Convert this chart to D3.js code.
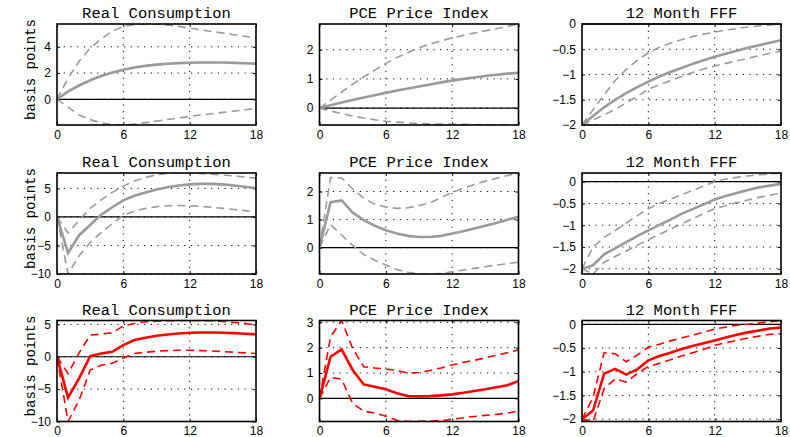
<!DOCTYPE html>
<html>
<head>
<meta charset="utf-8">
<script src="https://cdn.jsdelivr.net/npm/d3@7"></script>
<style>
  body { margin: 0; background: #fff; }
</style>
</head>
<body>
<svg width="790" height="437"></svg>
<script>
// months 0..18
var months = d3.range(0, 19);
var xTicks = [0, 6, 12, 18];
var titles = ["Real Consumption", "PCE Price Index", "12 Month FFF"];

// row 1 (gray, smooth)
var cons1 = [0, 0.6, 1.05, 1.45, 1.78, 2.05, 2.26, 2.42, 2.55, 2.64, 2.71, 2.76, 2.79, 2.81, 2.81, 2.8, 2.78, 2.75, 2.72];
var cons1Up = [0, 1.6, 2.9, 3.9, 4.6, 5.2, 5.55, 5.7, 5.74, 5.72, 5.66, 5.56, 5.43, 5.3, 5.17, 5.05, 4.92, 4.8, 4.65];
var cons1Lo = [0, -0.6, -1.2, -1.55, -1.8, -1.93, -1.96, -1.88, -1.78, -1.66, -1.54, -1.42, -1.3, -1.2, -1.1, -1.0, -0.9, -0.8, -0.72];
var pce1 = [0, 0.1, 0.19, 0.28, 0.36, 0.44, 0.52, 0.6, 0.67, 0.74, 0.81, 0.88, 0.94, 1.0, 1.05, 1.1, 1.14, 1.18, 1.21];
var pce1Up = [0, 0.27, 0.55, 0.82, 1.07, 1.3, 1.53, 1.73, 1.9, 2.06, 2.2, 2.3, 2.4, 2.49, 2.57, 2.65, 2.72, 2.8, 2.88];
var pce1Lo = [0, -0.1, -0.19, -0.27, -0.34, -0.4, -0.45, -0.48, -0.51, -0.53, -0.54, -0.55, -0.56, -0.56, -0.57, -0.57, -0.58, -0.58, -0.58];
var fff1 = [-2, -1.82, -1.65, -1.5, -1.37, -1.25, -1.14, -1.04, -0.95, -0.87, -0.79, -0.72, -0.65, -0.59, -0.53, -0.47, -0.42, -0.37, -0.32];
var fff1Up = [-2, -1.7, -1.4, -1.12, -0.9, -0.72, -0.57, -0.46, -0.38, -0.31, -0.25, -0.2, -0.16, -0.12, -0.09, -0.06, -0.04, -0.02, 0];
var fff1Lo = [-2, -1.9, -1.8, -1.69, -1.56, -1.43, -1.29, -1.2, -1.12, -1.04, -0.96, -0.89, -0.83, -0.78, -0.73, -0.68, -0.63, -0.58, -0.54];

// row 2 (gray)
var cons2 = [0, -6.3, -3.2, -1.4, 0.4, 1.7, 2.9, 3.7, 4.3, 4.8, 5.2, 5.5, 5.7, 5.8, 5.8, 5.7, 5.5, 5.3, 5.05];
var cons2Up = [0, -2.8, -0.6, 1.5, 3.0, 4.3, 5.4, 6.3, 6.9, 7.4, 7.65, 7.7, 7.7, 7.6, 7.5, 7.35, 7.2, 7.0, 6.8];
var cons2Lo = [0, -10, -6.8, -4.5, -2.7, -1.2, 0.3, 1.0, 1.5, 1.8, 1.95, 2.0, 1.95, 1.85, 1.7, 1.5, 1.3, 1.1, 0.9];
var pce2 = [0, 1.62, 1.68, 1.25, 0.98, 0.78, 0.62, 0.5, 0.42, 0.38, 0.38, 0.42, 0.5, 0.58, 0.68, 0.78, 0.88, 0.99, 1.1];
var pce2Up = [0, 2.5, 2.48, 2.1, 1.76, 1.55, 1.45, 1.4, 1.42, 1.5, 1.6, 1.78, 1.97, 2.12, 2.25, 2.37, 2.47, 2.57, 2.66];
var pce2Lo = [0, 0.82, 0.45, 0.08, -0.25, -0.45, -0.62, -0.78, -0.88, -0.93, -0.94, -0.92, -0.86, -0.8, -0.74, -0.68, -0.62, -0.57, -0.52];
var fff2 = [-2, -1.92, -1.67, -1.53, -1.39, -1.25, -1.12, -0.99, -0.87, -0.74, -0.63, -0.52, -0.41, -0.33, -0.26, -0.19, -0.13, -0.09, -0.05];
var fff2Up = [-2, -1.5, -1.28, -1.12, -0.95, -0.78, -0.62, -0.5, -0.4, -0.3, -0.2, -0.1, 0.0, 0.06, 0.1, 0.13, 0.16, 0.18, 0.2];
var fff2Lo = [-2, -2.12, -1.85, -1.72, -1.59, -1.46, -1.33, -1.21, -1.09, -0.97, -0.85, -0.73, -0.62, -0.55, -0.48, -0.42, -0.36, -0.31, -0.26];

// row 3 (red)
var cons3 = [0, -6.3, -3.35, 0.1, 0.5, 0.77, 1.8, 2.58, 2.94, 3.25, 3.45, 3.6, 3.7, 3.75, 3.75, 3.7, 3.65, 3.55, 3.45];
var cons3Up = [0, -2.6, 0.6, 3.35, 3.5, 3.7, 4.75, 5.15, 5.4, 5.5, 5.55, 5.6, 5.6, 5.6, 5.55, 5.45, 5.3, 5.15, 4.9];
var cons3Lo = [0, -10, -6.7, -2.06, -1.3, -1.0, -0.2, 0.5, 0.7, 0.85, 0.95, 1.0, 1.0, 0.95, 0.9, 0.8, 0.7, 0.6, 0.5];
var pce3 = [0, 1.64, 1.93, 1.12, 0.55, 0.46, 0.36, 0.2, 0.09, 0.08, 0.09, 0.12, 0.16, 0.22, 0.29, 0.36, 0.44, 0.52, 0.68];
var pce3Up = [0, 2.43, 3.07, 1.97, 1.25, 1.2, 1.16, 1.1, 1.0, 1.02, 1.1, 1.2, 1.32, 1.42, 1.5, 1.6, 1.7, 1.8, 1.91];
var pce3Lo = [0, 0.83, 0.76, -0.2, -0.5, -0.58, -0.7, -0.86, -0.91, -0.9, -0.89, -0.88, -0.82, -0.76, -0.71, -0.67, -0.63, -0.58, -0.49];
var fff3 = [-2, -1.82, -1.04, -0.94, -1.06, -0.95, -0.76, -0.67, -0.6, -0.52, -0.46, -0.4, -0.34, -0.28, -0.22, -0.17, -0.13, -0.09, -0.07];
var fff3Up = [-2, -1.54, -0.6, -0.62, -0.79, -0.65, -0.48, -0.42, -0.35, -0.29, -0.23, -0.17, -0.1, -0.06, -0.02, 0.0, 0.03, 0.05, 0.08];
var fff3Lo = [-2, -2.05, -1.36, -1.15, -1.22, -1.04, -0.89, -0.82, -0.75, -0.67, -0.6, -0.53, -0.44, -0.39, -0.34, -0.29, -0.25, -0.21, -0.2];

// y tick labels per panel
var yTicks = [
  [[0, 2, 4], [0, 1, 2], [-2, -1.5, -1, -0.5, 0]],
  [[-10, -5, 0, 5], [0, 1, 2], [-2, -1.5, -1, -0.5, 0]],
  [[-10, -5, 0, 5], [0, 1, 2, 3], [-2, -1.5, -1, -0.5, 0]]
];

var series = [
  [[cons1, cons1Up, cons1Lo], [pce1, pce1Up, pce1Lo], [fff1, fff1Up, fff1Lo]],
  [[cons2, cons2Up, cons2Lo], [pce2, pce2Up, pce2Lo], [fff2, fff2Up, fff2Lo]],
  [[cons3, cons3Up, cons3Lo], [pce3, pce3Up, pce3Lo], [fff3, fff3Up, fff3Lo]]
];
var rowColors = ["#9a9a9a", "#9a9a9a", "#ff0000"];

// layout
var colLeft = [57, 319.5, 582];
var rowTop = [24, 173, 320.5];
var w = 199, h = 101;

var svg = d3.select("svg");
var mono = "'Courier New', 'Liberation Mono', monospace";
var sans = "'Liberation Sans', Arial, sans-serif";

rowTop.forEach(function(top, r) {
  // y label
  svg.append("text")
    .attr("transform", "translate(30," + (top + h / 2 - 5) + ") rotate(-90)")
    .attr("text-anchor", "middle")
    .attr("dy", "0.35em")
    .style("font-family", mono)
    .style("font-size", "14px")
    .text("basis points");

  colLeft.forEach(function(left, c) {
    var s = series[r][c];
    var all = d3.merge(s);
    var x = d3.scaleLinear().domain([0, 18]).range([0, w]);
    var y = d3.scaleLinear().domain(d3.extent(all)).range([h, 0]);

    var g = svg.append("g").attr("transform", "translate(" + left + "," + top + ")");

    g.append("text")
      .attr("x", w / 2)
      .attr("y", -6)
      .attr("text-anchor", "middle")
      .style("font-family", mono)
      .style("font-size", "15.5px")
      .text(titles[c]);

    // dotted grid
    g.selectAll(".vgrid").data(xTicks.slice(1, 3)).enter().append("line")
      .attr("x1", function(d) { return x(d); })
      .attr("x2", function(d) { return x(d); })
      .attr("y1", 0).attr("y2", h)
      .style("stroke", "#000").style("stroke-width", 1)
      .style("stroke-dasharray", "1.2,5.5");
    g.selectAll(".hgrid").data(yTicks[r][c]).enter().append("line")
      .attr("x1", 0).attr("x2", w)
      .attr("y1", function(d) { return y(d); })
      .attr("y2", function(d) { return y(d); })
      .style("stroke", "#000").style("stroke-width", 1)
      .style("stroke-dasharray", "1.2,5.5");

    // zero line
    g.append("line")
      .attr("x1", 0).attr("x2", w)
      .attr("y1", y(0)).attr("y2", y(0))
      .style("stroke", "#000").style("stroke-width", 1.2);

    // axes with inner ticks
    var fmt = function(d) { return String(d).replace("-", "\u2212"); };
    g.append("g").attr("transform", "translate(0," + h + ")")
      .call(d3.axisBottom(x).tickValues(xTicks).tickSize(-3).tickPadding(5).tickFormat(fmt));
    g.append("g")
      .call(d3.axisLeft(y).tickValues(yTicks[r][c]).tickSize(-3).tickPadding(6).tickFormat(fmt));
    g.append("g").call(d3.axisTop(x).tickValues(xTicks).tickSize(-3).tickFormat(""));
    g.append("g").attr("transform", "translate(" + w + ",0)")
      .call(d3.axisRight(y).tickValues(yTicks[r][c]).tickSize(-3).tickFormat(""));
    g.selectAll(".domain").remove();
    g.selectAll(".tick text")
      .style("font-family", sans)
      .style("font-size", "12px")
      .attr("fill", "#000");

    // clip
    var id = "clip" + r + c;
    g.append("clipPath").attr("id", id)
      .append("rect").attr("width", w).attr("height", h);

    var line = d3.line()
      .x(function(d, i) { return x(months[i]); })
      .y(function(d) { return y(d); });

    var lines = g.append("g").attr("clip-path", "url(#" + id + ")");
    [s[1], s[2]].forEach(function(band) {
      lines.append("path")
        .attr("d", line(band))
        .style("fill", "none")
        .style("stroke", rowColors[r])
        .style("stroke-width", 1.6)
        .style("stroke-dasharray", "8,5");
    });
    lines.append("path")
      .attr("d", line(s[0]))
      .style("fill", "none")
      .style("stroke", rowColors[r])
      .style("stroke-width", 2.6);

    // box
    g.append("rect")
      .attr("width", w).attr("height", h)
      .style("fill", "none")
      .style("stroke", "#000")
      .style("stroke-width", 1.6);
  });
});
</script>
</body>
</html>
